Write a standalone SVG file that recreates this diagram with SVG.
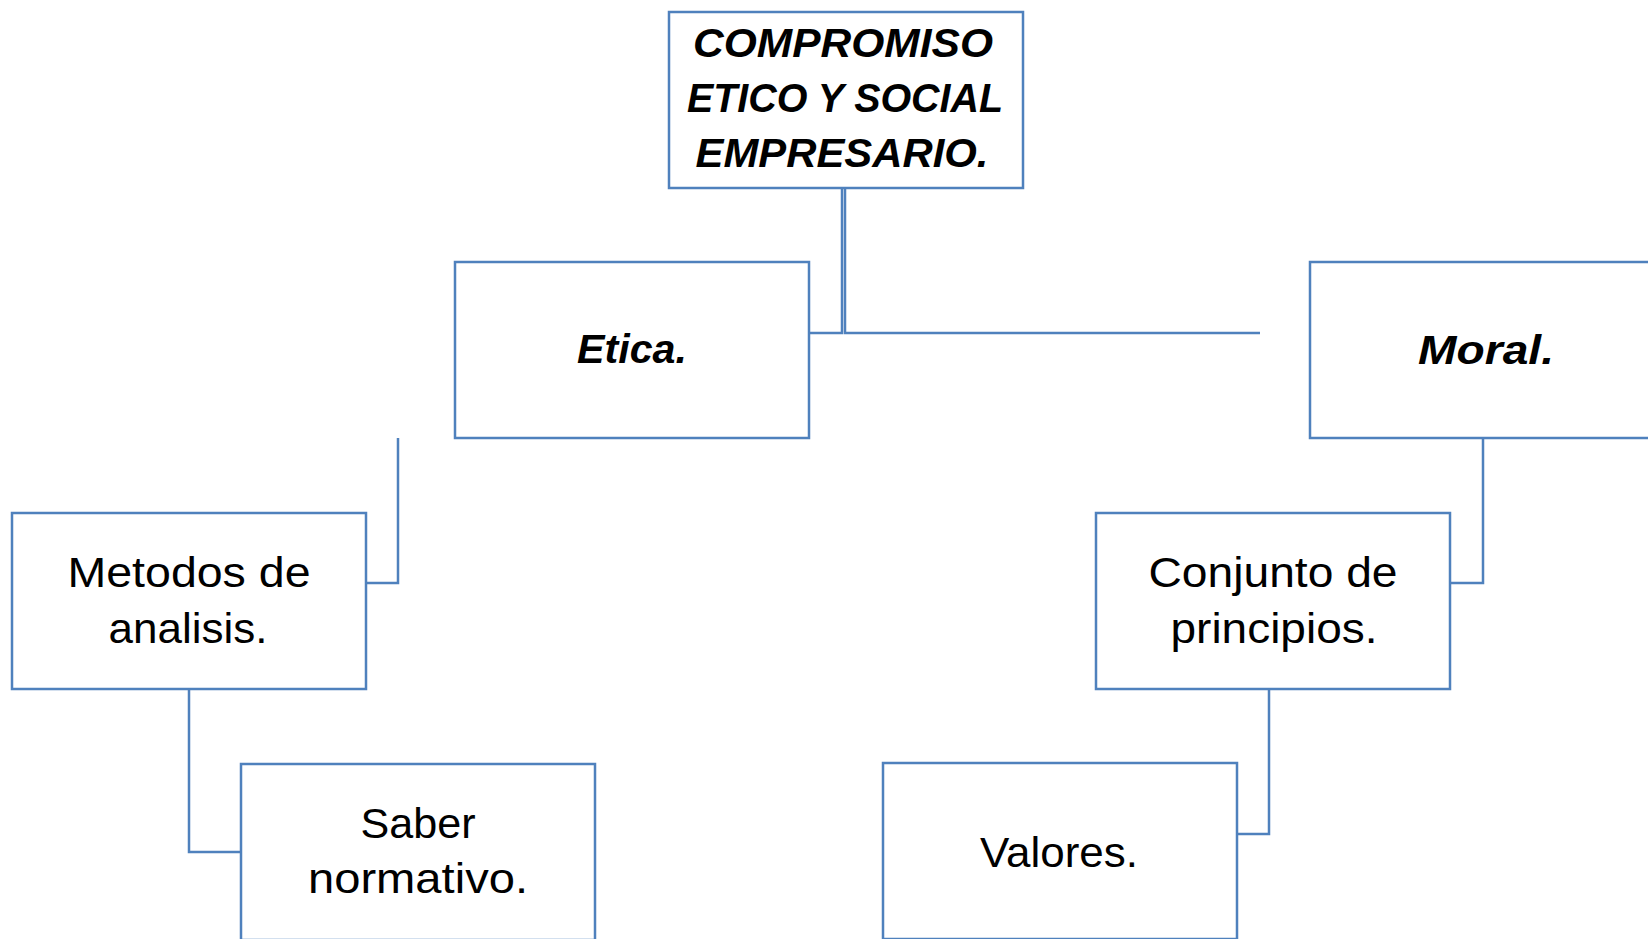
<svg xmlns="http://www.w3.org/2000/svg" width="1648" height="939" viewBox="0 0 1648 939">
<style>
.box{fill:#fff;stroke:#4F81BD;stroke-width:2.5}
.con{fill:none;stroke:#4F81BD;stroke-width:2.5}
.t{font-family:"Liberation Sans",Arial,sans-serif;font-size:42px;fill:#000;text-anchor:middle}
.b{font-weight:bold;font-style:italic;font-size:40px}
</style>
<rect width="1648" height="939" fill="#fff"/>
<g id="connectors">
<path class="con" d="M809,333 H842 V188"/>
<path class="con" d="M845,188 V333 H1260"/>
<path class="con" d="M398,438 V583 H366"/>
<path class="con" d="M1483,438 V583 H1450"/>
<path class="con" d="M189,689 V852 H241"/>
<path class="con" d="M1269,689 V834 H1237"/>
</g>
<g id="n-compromiso">
<rect class="box" x="669" y="12" width="354" height="176"/>
<text class="t b" x="843" y="57" textLength="300" lengthAdjust="spacingAndGlyphs">COMPROMISO</text>
<text class="t b" x="845" y="112" textLength="316" lengthAdjust="spacingAndGlyphs">ETICO Y SOCIAL</text>
<text class="t b" x="842" y="167" textLength="293" lengthAdjust="spacingAndGlyphs">EMPRESARIO.</text>
</g>
<g id="n-etica">
<rect class="box" x="455" y="262" width="354" height="176"/>
<text class="t b" x="632" y="363" textLength="110" lengthAdjust="spacingAndGlyphs">Etica.</text>
</g>
<g id="n-moral">
<rect class="box" x="1310" y="262" width="354" height="176"/>
<text class="t b" x="1486" y="364" textLength="136" lengthAdjust="spacingAndGlyphs">Moral.</text>
</g>
<g id="n-metodos">
<rect class="box" x="12" y="513" width="354" height="176"/>
<text class="t" x="189" y="587" textLength="243" lengthAdjust="spacingAndGlyphs">Metodos de</text>
<text class="t" x="188" y="643" textLength="159" lengthAdjust="spacingAndGlyphs">analisis.</text>
</g>
<g id="n-conjunto">
<rect class="box" x="1096" y="513" width="354" height="176"/>
<text class="t" x="1273" y="587" textLength="249" lengthAdjust="spacingAndGlyphs">Conjunto de</text>
<text class="t" x="1274" y="643" textLength="207" lengthAdjust="spacingAndGlyphs">principios.</text>
</g>
<g id="n-saber">
<rect class="box" x="241" y="764" width="354" height="176"/>
<text class="t" x="418" y="838" textLength="115" lengthAdjust="spacingAndGlyphs">Saber</text>
<text class="t" x="418" y="893" textLength="220" lengthAdjust="spacingAndGlyphs">normativo.</text>
</g>
<g id="n-valores">
<rect class="box" x="883" y="763" width="354" height="176"/>
<text class="t" x="1059" y="867" textLength="158" lengthAdjust="spacingAndGlyphs">Valores.</text>
</g>
</svg>
